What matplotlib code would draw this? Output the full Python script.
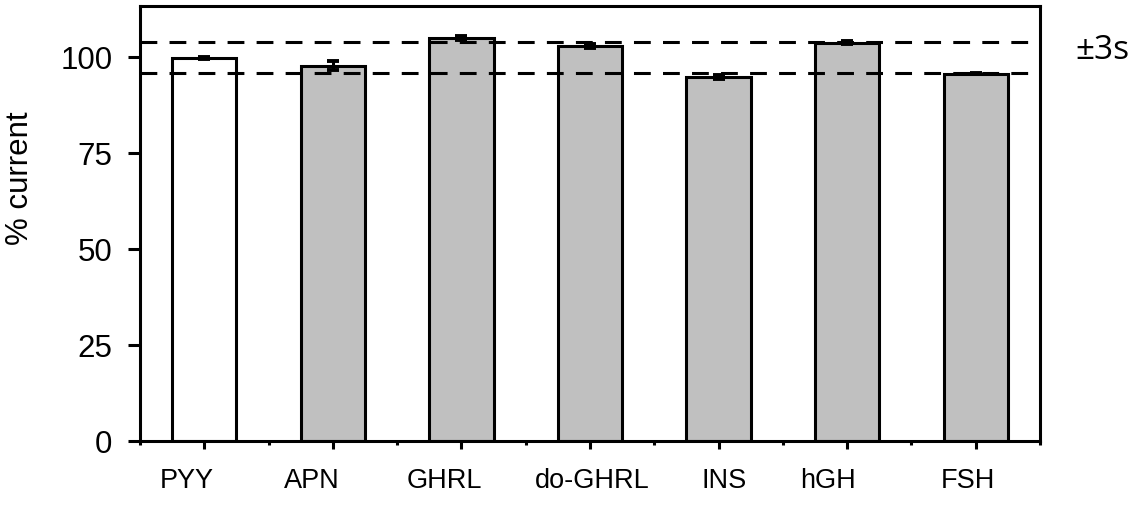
import matplotlib
matplotlib.use("Agg")
import matplotlib.pyplot as plt
from matplotlib.ticker import FixedLocator

# values
labels = ["PYY", "APN", "GHRL", "do-GHRL", "INS", "hGH", "FSH"]
current = [99.7, 97.8, 104.9, 102.8, 94.8, 103.7, 95.7]
err = [0.3, 1.2, 0.5, 0.5, 0.5, 0.4, 0.1]
fills = ["white", "#C0C0C0", "#C0C0C0", "#C0C0C0", "#C0C0C0", "#C0C0C0", "#C0C0C0"]
band = [95.9, 104.0]   # +/- 3s limits
yticks = [0, 25, 50, 75, 100]

# the original's category labels were hand placed, not centred on the ticks
label_shift = [-0.14, -0.16, -0.13, 0.02, 0.04, -0.15, -0.06]

LW = 2.2

fig = plt.figure(figsize=(11.33, 5.05), dpi=100)
ax = fig.add_axes([0.1236, 0.1267, 0.9179 - 0.1236, 0.988 - 0.1267])

x = list(range(len(labels)))
ax.bar(x, current, width=0.5, color=fills, edgecolor="black", linewidth=LW, zorder=2)
ax.errorbar(x, current, yerr=err, fmt="none", ecolor="black", elinewidth=LW,
            capsize=4.5, capthick=LW + 0.6, zorder=3)

for y in band:
    ax.axhline(y, color="black", linewidth=LW, dashes=(5.5, 4), zorder=4)

ax.set_xlim(-0.5, len(labels) - 0.5)
ax.set_ylim(0, 113.3)

ax.set_xticks(x)
ax.set_xticklabels([])
ax.xaxis.set_minor_locator(FixedLocator([i - 0.5 for i in range(len(labels) + 1)]))
for xi, lab, dx in zip(x, labels, label_shift):
    ax.annotate(lab, xy=(xi + dx, 0), xycoords=("data", "axes fraction"),
                xytext=(0, -27), textcoords="offset pixels", ha="center", va="top",
                fontsize=19.5, fontfamily="Liberation Sans")

ax.set_yticks(yticks)
ax.set_yticklabels([str(v) for v in yticks], fontsize=22.5, fontfamily="Liberation Sans")

ax.tick_params(axis="x", which="major", direction="out", length=6, width=LW)
ax.tick_params(axis="x", which="minor", direction="out", length=3, width=LW)
ax.tick_params(axis="y", direction="out", length=9, width=LW, pad=11)

for s in ax.spines.values():
    s.set_linewidth(LW)

ax.set_ylabel("% current", fontsize=22.5, fontfamily="Liberation Sans")
ax.yaxis.set_label_coords(-0.117, 0.605)

# +/- 3s label outside the frame, right of the dashed band
ax.text(1.039, 0.897, "±3s", transform=ax.transAxes, fontsize=24,
        fontfamily="Open Sans", ha="left", va="center")

fig.savefig("out.png", dpi=100)
